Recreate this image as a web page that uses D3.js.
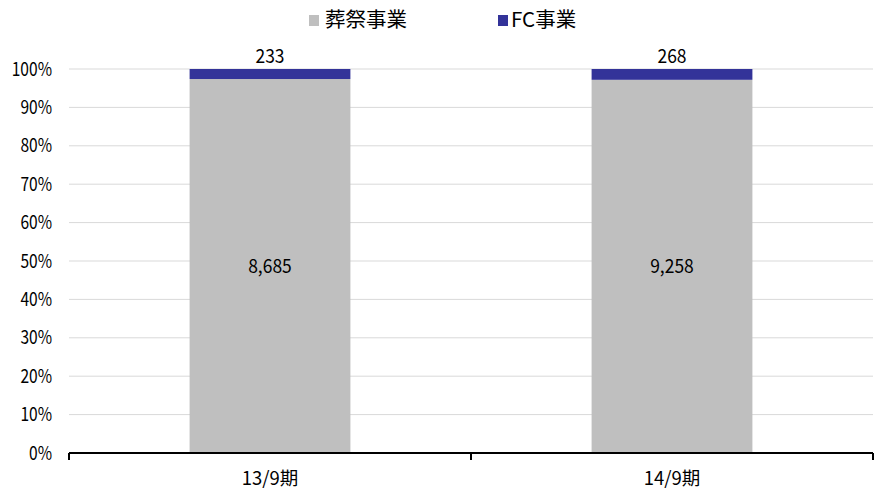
<!DOCTYPE html>
<html>
<head>
<meta charset="utf-8">
<script src="https://cdn.jsdelivr.net/npm/d3@7/dist/d3.min.js"></script>
<style>
  body { margin: 0; background: #fff; }
  text { font-family: "Noto Sans CJK JP", "Noto Sans", sans-serif; fill: #000; }
</style>
</head>
<body>
<svg id="chart" width="882" height="491"></svg>
<script>
// Segment sales by period (stacked to 100%)
const categories = ["13/9期", "14/9期"];
const seriesNames = ["葬祭事業", "FC事業"];
const funeral = [8685, 9258];
const fc = [233, 268];
const yTicks = [0, 0.1, 0.2, 0.3, 0.4, 0.5, 0.6, 0.7, 0.8, 0.9, 1.0];
const colors = ["#BFBFBF", "#333399"];

const svg = d3.select("#chart");
const margin = { left: 69, right: 9, top: 69, bottom: 38 };
const W = 882, H = 491;

const x = d3.scaleBand().domain(categories).range([margin.left, W - margin.right]).padding(0);
const y = d3.scaleLinear().domain([0, 1]).range([H - margin.bottom, margin.top]);

// narrow text helper: places text at (px, py) and compresses it horizontally
function narrowText(sel, px, py, sx) {
  return sel.attr("transform", `translate(${px},${py}) scale(${sx},1)`);
}

// gridlines
svg.append("g").selectAll("line").data(yTicks.filter(d => d > 0)).join("line")
  .attr("x1", margin.left).attr("x2", W - margin.right)
  .attr("y1", d => y(d)).attr("y2", d => y(d))
  .attr("stroke", "#D9D9D9").attr("stroke-width", 1);

// y labels
svg.append("g").selectAll("text").data(yTicks).join("text")
  .each(function(d) { narrowText(d3.select(this), 52, y(d), 0.82); })
  .attr("dy", "0.35em")
  .attr("text-anchor", "end").attr("font-size", 19)
  .text(d3.format(".0%"));

// stacked bars
const barW = x.bandwidth() * 0.4;
const rows = categories.map((c, i) => {
  const total = funeral[i] + fc[i];
  return { c, a: funeral[i], b: fc[i], pa: funeral[i] / total, pb: fc[i] / total };
});
const g = svg.append("g");
rows.forEach(r => {
  const cx = x(r.c) + x.bandwidth() / 2;
  g.append("rect").attr("x", cx - barW / 2).attr("width", barW)
    .attr("y", y(r.pa)).attr("height", y(0) - y(r.pa)).attr("fill", colors[0]);
  g.append("rect").attr("x", cx - barW / 2).attr("width", barW)
    .attr("y", y(r.pa + r.pb)).attr("height", y(r.pa) - y(r.pa + r.pb)).attr("fill", colors[1]);
  narrowText(g.append("text"), cx, y(r.pa / 2), 0.92).attr("dy", "0.35em")
    .attr("text-anchor", "middle").attr("font-size", 19).text(d3.format(",")(r.a));
  narrowText(g.append("text"), cx, y(1) - 13, 0.92).attr("dy", "0.35em")
    .attr("text-anchor", "middle").attr("font-size", 19)
    .text(d3.format(",")(r.b));
});

// x axis
const ax = svg.append("g");
ax.append("line").attr("x1", margin.left).attr("x2", W - margin.right)
  .attr("y1", y(0)).attr("y2", y(0)).attr("stroke", "#000").attr("stroke-width", 2);
const bounds = [margin.left, ...categories.map(c => x(c) + x.bandwidth())];
ax.selectAll("line.tick").data(bounds).join("line").attr("class", "tick")
  .attr("x1", d => d).attr("x2", d => d)
  .attr("y1", y(0)).attr("y2", y(0) + 7).attr("stroke", "#000").attr("stroke-width", 2);
ax.selectAll("text").data(categories).join("text")
  .attr("x", d => x(d) + x.bandwidth() / 2).attr("y", y(0) + 32)
  .attr("text-anchor", "middle").attr("font-size", 18.5).text(d => d);

// legend
const leg = svg.append("g");
const legX = [309, 498];
seriesNames.forEach((n, i) => {
  leg.append("rect").attr("x", legX[i]).attr("y", 15).attr("width", 10).attr("height", 11).attr("fill", colors[i]);
  leg.append("text").attr("x", legX[i] + (i === 0 ? 16 : 13)).attr("y", 20).attr("dy", "0.35em")
    .attr("font-size", 20.5).text(n);
});
</script>
</body>
</html>
